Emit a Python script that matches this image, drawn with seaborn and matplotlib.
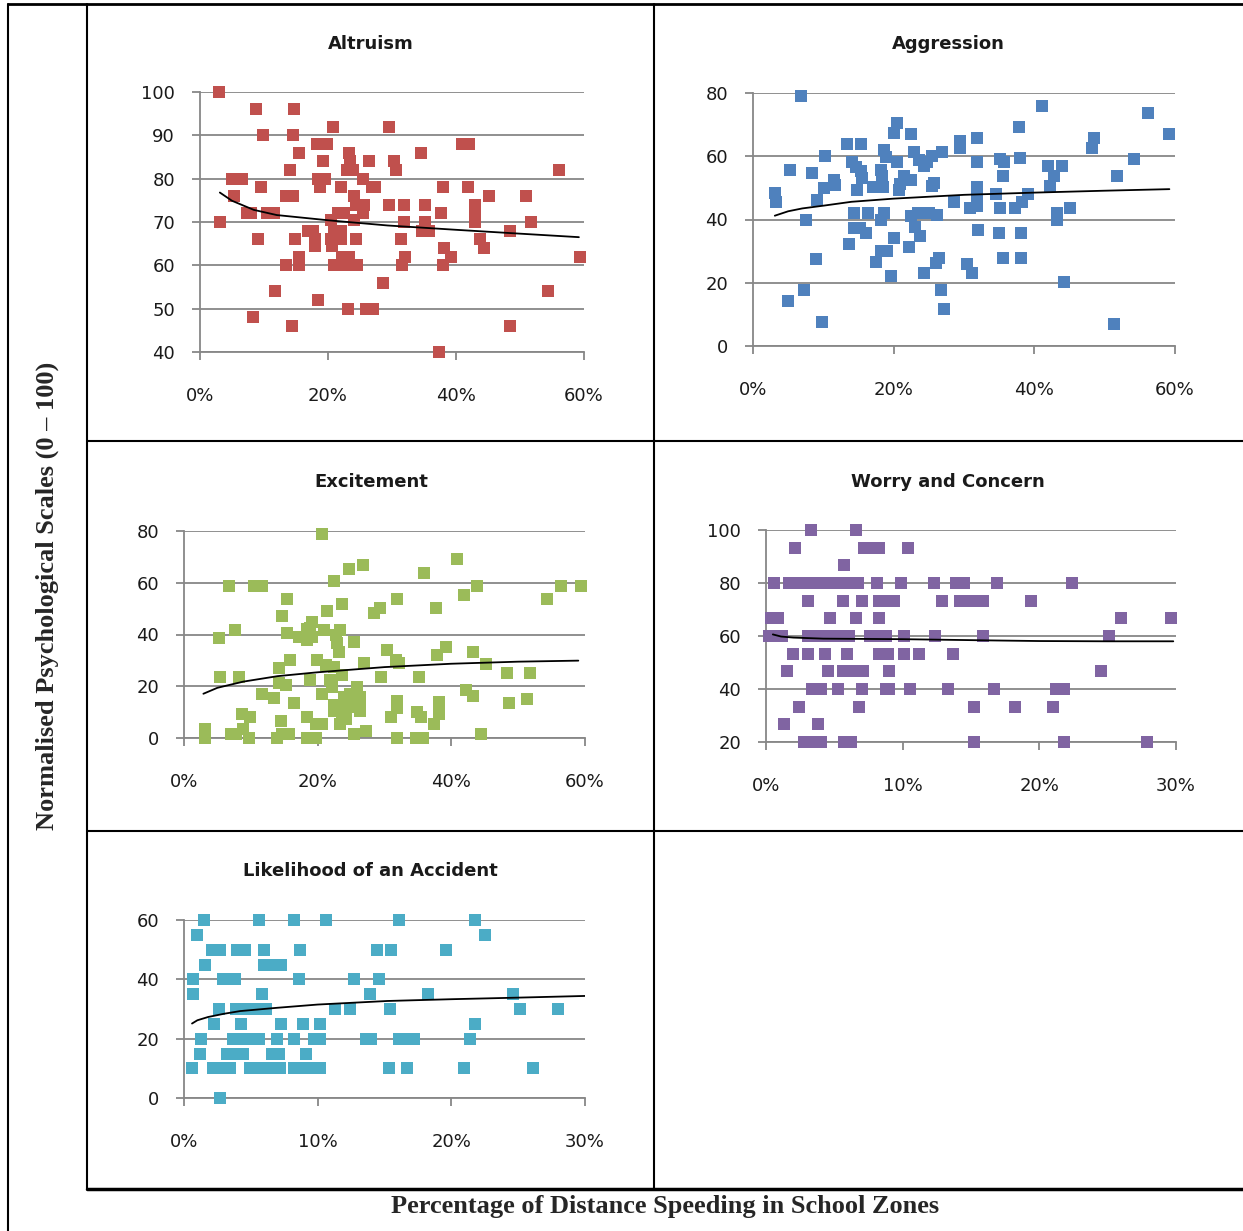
import numpy as np
import pandas as pd
import matplotlib
matplotlib.use("Agg")
import matplotlib.pyplot as plt
from matplotlib.lines import Line2D
from matplotlib.ticker import FuncFormatter
import seaborn as sns

# ---------------- data: % of distance speeding (x) vs normalised scale (y) ----------------
altruism_x = [2.9, 3.1, 8.75, 9.8, 5.0, 6.6, 5.3, 7.3, 7.9, 9.6, 9.0, 10.4, 11.5, 11.7, 8.3,
              14.7, 14.5, 15.4, 14.1, 13.5, 14.6, 14.9, 15.4, 13.5, 15.4, 14.3, 18.3, 19.9,
              19.2, 18.5, 19.6, 18.7, 16.8, 17.6, 18.0, 18.0, 18.4, 20.8, 22.0, 23.3, 23.4,
              22.9, 23.9, 20.4, 21.0, 20.4, 20.7, 21.5, 22.5, 22.0, 22.0, 20.9, 22.0, 23.5,
              24.6, 22.2, 23.3, 23.1, 24.1, 25.6, 24.4, 25.4, 24.1, 24.3, 26.4, 25.4, 26.9,
              27.4, 25.9, 27.1, 28.6, 29.5, 30.3, 30.7, 29.5, 31.9, 31.8, 31.4, 32.0, 31.6,
              34.5, 35.1, 35.2, 35.8, 34.7, 38.0, 37.6, 38.1, 39.2, 37.9, 37.3, 41.0, 42.1,
              41.8, 43.0, 43.0, 43.0, 43.8, 44.3, 45.2, 48.4, 48.4, 51.0, 51.7, 54.3, 56.1, 59.3]
altruism_y = [100, 70, 96, 90, 80, 80, 76, 72, 72, 78, 66, 72, 72, 54, 48,
              96, 90, 86, 82, 76, 76, 66, 62, 60, 60, 46, 88, 88,
              84, 80, 80, 78, 68, 68, 66, 64.5, 52, 92, 78, 86, 84,
              82, 82, 70.5, 68, 66, 64.5, 72, 72, 68, 66, 60, 60, 60,
              60, 62, 62, 50, 76, 74, 74, 72, 70.5, 66, 84, 80, 78,
              78, 50, 50, 56, 92, 84, 82, 74, 74, 70, 66, 62, 60,
              86, 74, 70, 68, 68, 78, 72, 64, 62, 60, 40, 88, 88,
              78, 74, 72, 70, 66, 64, 76, 68, 46, 76, 70, 54, 82, 62]
altruism_trend_x = [3.1, 5.0, 8.4, 12.0, 20.0, 29.3, 40.0, 50.1, 59.2]
altruism_trend_y = [76.8, 74.9, 72.8, 71.6, 70.4, 69.2, 68.2, 67.3, 66.5]

aggression_x = [3.1, 3.2, 6.8, 5.3, 5.0, 7.3, 7.6, 8.4, 8.9, 9.1, 9.8, 10.1, 10.3, 11.5, 11.6,
                13.4, 13.6, 14.1, 14.6, 15.3, 15.5, 14.8, 15.4, 14.4, 14.4, 15.2, 16.0, 16.3,
                17.1, 17.5, 18.2, 18.4, 18.5, 18.6, 18.9, 18.2, 18.6, 18.2, 19.1, 19.6, 20.0,
                20.1, 20.5, 20.5, 20.7, 20.9, 21.5, 22.4, 22.4, 22.2, 22.4, 23.4, 22.9, 23.6,
                24.3, 24.8, 25.5, 26.9, 23.1, 23.7, 24.3, 24.3, 25.0, 26.2, 25.5, 25.7, 26.0,
                26.4, 26.7, 27.2, 28.6, 29.4, 29.4, 30.4, 31.2, 30.9, 31.8, 31.9, 31.9, 31.9,
                31.8, 32.0, 34.6, 35.1, 35.0, 35.1, 35.7, 35.5, 35.5, 37.3, 37.8, 38.0, 38.3,
                39.1, 38.1, 38.1, 41.1, 41.9, 42.8, 42.2, 44.0, 43.2, 43.2, 44.2, 45.0, 48.2,
                48.5, 51.3, 51.7, 54.2, 56.2, 59.2]
aggression_y = [48.3, 45.6, 79, 55.7, 14.2, 17.8, 40, 54.6, 27.6, 46.2, 7.6, 49.9, 60.1, 52.5, 51,
                63.9, 32.1, 58.3, 56.7, 55.2, 53, 49.3, 63.9, 42.2, 37.2, 37.2, 35.6, 42.2,
                50.4, 26.6, 55.7, 53.6, 50.4, 62, 59.9, 39.8, 42.2, 30.1, 30.1, 22.1, 34,
                67.3, 70.5, 58.3, 49.3, 51.2, 53.6, 52.5, 67, 31.4, 41, 42, 61.2, 58.9,
                57, 58.3, 60.1, 61.5, 37.7, 34.8, 23.1, 42, 42, 41.4, 50.6, 51.5, 26.1,
                27.7, 17.6, 11.8, 45.6, 64.7, 62.6, 25.9, 23.1, 43.5, 58.3, 65.7, 50.4, 47.8,
                44.3, 36.7, 48, 43.5, 35.6, 59.2, 58.3, 53.8, 27.7, 43.5, 69.4, 59.4, 45.6,
                48, 35.6, 27.7, 76, 57, 53.8, 50.6, 57, 42, 39.8, 20.1, 43.5, 62.6,
                65.7, 6.8, 53.6, 59.1, 73.7, 67]
aggression_trend_x = [3.1, 5.0, 7.0, 10.1, 14.0, 20.0, 30.0, 40.0, 49.9, 59.2]
aggression_trend_y = [41.2, 42.6, 43.5, 44.4, 45.6, 46.6, 47.8, 48.5, 49.1, 49.6]

excitement_x = [3.2, 3.2, 5.2, 5.4, 8.2, 6.8, 7.7, 7.0, 7.8, 8.7, 9.9, 8.9, 9.7, 10.4, 11.7,
                11.7, 13.4, 13.9, 14.7, 14.5, 14.7, 15.4, 15.4, 14.2, 15.9, 14.2, 15.2, 15.7,
                16.4, 17.2, 18.4, 18.8, 19.2, 18.9, 19.2, 18.4, 18.4, 19.7, 20.7, 18.4, 19.7,
                19.9, 20.7, 20.9, 20.6, 21.4, 22.4, 23.6, 23.4, 22.7, 22.9, 23.2, 21.2, 22.4,
                21.9, 22.2, 23.6, 22.4, 23.4, 24.4, 25.4, 26.4, 23.9, 24.9, 25.9, 26.4, 22.4,
                23.7, 25.2, 26.4, 23.4, 24.2, 24.7, 26.8, 25.5, 25.4, 27.2, 26.9, 28.4, 29.4,
                29.5, 30.4, 30.9, 31.7, 31.8, 31.8, 31.9, 31.9, 32.2, 34.7, 35.7, 34.9, 35.4,
                35.2, 35.9, 37.7, 38.2, 38.2, 37.4, 37.9, 39.2, 40.9, 41.9, 43.9, 42.2, 43.2,
                43.2, 44.4, 45.2, 48.4, 48.6, 51.7, 51.3, 54.3, 56.4, 59.4]
excitement_y = [3.5, 0, 38.5, 23.6, 23.6, 58.9, 41.7, 1.5, 1.5, 9.3, 8, 3.5, 0, 58.9, 58.9,
                17.1, 15.5, 0, 1.5, 6.7, 47.2, 53.7, 40.4, 26.9, 30.1, 21.3, 20.3, 1.5,
                13.5, 39.1, 37.8, 22.6, 45, 42.4, 39.1, 42.1, 8, 5.4, 5.4, 0, 0,
                30.1, 79, 41.7, 17.1, 48.9, 60.5, 51.9, 41.7, 39.8, 36.6, 33.3, 28.2, 27.5,
                22.3, 19.7, 24.2, 12.6, 12.6, 12.6, 12.6, 12.6, 15.8, 17.1, 19.7, 15.8, 10.6,
                10, 11.9, 10.6, 5.4, 7.4, 65.3, 67, 37.2, 1.5, 2.8, 28.8, 48.5, 50.2,
                23.6, 33.9, 8, 30.1, 14.2, 11.6, 0, 53.7, 28.8, 0, 0, 10, 8,
                23.6, 63.8, 50.2, 13.9, 9.3, 5.4, 32, 35.3, 69, 55.4, 58.9, 18.4, 16.1,
                33.3, 1.5, 28.5, 25.1, 13.5, 25.1, 15.1, 53.7, 58.9, 58.9]
excitement_trend_x = [2.9, 5.0, 8.9, 14.0, 20.0, 30.0, 40.0, 50.0, 59.0]
excitement_trend_y = [17.1, 19.4, 21.8, 23.9, 25.4, 27.4, 28.7, 29.5, 29.9]

worry_x = [3.3, 6.6,
           2.1, 7.2, 7.8, 8.3, 10.4,
           5.7,
           0.6, 1.7, 2.2, 2.7, 3.2, 3.7, 4.2, 4.6, 5.1, 5.6, 6.1, 6.7, 8.1, 9.9, 12.3, 13.9, 14.5, 16.9, 22.4,
           3.1, 5.6, 7.0, 8.3, 8.8, 9.4, 12.9, 14.2, 14.8, 15.4, 15.9, 19.4,
           0.4, 0.9, 4.7, 6.6, 8.3, 26.0, 29.6,
           0.2, 0.7, 1.2, 3.1, 3.7, 4.2, 4.6, 5.1, 5.6, 6.1, 7.6, 8.1, 8.6, 8.8, 10.1, 12.4, 15.9, 25.1,
           2.0, 3.1, 4.3, 5.9, 8.3, 8.9, 10.1, 11.2, 13.7,
           1.5, 4.5, 5.6, 6.1, 6.6, 7.1, 9.0, 24.5,
           3.4, 4.0, 5.3, 7.0, 8.8, 9.0, 10.5, 13.3, 16.7, 21.2, 21.8,
           2.4, 6.8, 15.2, 18.2, 21.0,
           1.3, 3.8,
           2.8, 3.3, 4.0, 5.7, 6.2, 15.2, 21.8, 27.9]
worry_y = [100] * 2 + [93.3] * 5 + [86.7] * 1 + [80] * 19 + [73.3] * 12 + [66.7] * 7 + \
          [60] * 18 + [53.3] * 9 + [46.7] * 8 + [40] * 11 + [33.3] * 5 + [26.7] * 2 + [20] * 8
worry_trend_x = [0.5, 1.1, 2.0, 4.2, 10.0, 16.9, 20.0, 25.0, 29.8]
worry_trend_y = [60.6, 59.8, 59.4, 59.0, 58.8, 58.3, 58.1, 58.0, 58.0]

likelihood_x = [1.5, 5.6, 8.2, 10.6, 16.1, 21.8,
                1.0, 22.5,
                2.1, 2.7, 3.95, 4.6, 5.95, 8.65, 14.45, 15.5, 19.6,
                1.6, 6.0, 6.6, 7.25,
                0.7, 2.95, 3.8, 8.6, 12.7, 14.6,
                0.65, 5.8, 13.9, 18.25, 24.6,
                2.6, 3.9, 4.6, 5.25, 6.1, 11.3, 12.4, 15.4, 25.1, 27.95,
                2.25, 4.3, 7.25, 8.9, 10.15, 21.8,
                1.25, 3.65, 4.3, 5.0, 5.6, 6.95, 8.2, 9.7, 10.2, 13.6, 14.0, 16.1, 17.0, 17.2, 21.4,
                1.2, 3.2, 3.95, 4.45, 6.6, 7.1, 9.1,
                0.6, 2.2, 2.8, 3.45, 4.95, 5.5, 6.1, 6.7, 7.2, 8.2, 8.7, 9.2, 9.75, 10.2, 15.3, 16.7,
                20.95, 26.1,
                2.7]
likelihood_y = [60] * 6 + [55] * 2 + [50] * 9 + [45] * 4 + [40] * 6 + [35] * 5 + [30] * 10 + \
               [25] * 6 + [20] * 15 + [15] * 7 + [10] * 18 + [0] * 1
likelihood_trend_x = [0.6, 1.0, 1.8, 3.0, 4.2, 6.95, 10.0, 15.2, 20.0, 24.7, 30.0]
likelihood_trend_y = [25.1, 26.2, 27.3, 28.4, 29.3, 30.4, 31.5, 32.7, 33.3, 33.8, 34.4]

panel_titles = ["Altruism", "Aggression", "Excitement", "Worry and Concern",
                "Likelihood of an Accident"]
y_label = "Normalised Psychological Scales (0 \u2013 100)"
x_label = "Percentage of Distance Speeding in School Zones"

# ---------------- figure ----------------
W, H = 1243, 1231
sns.set_theme(style="white")
plt.rcParams["font.family"] = ["DejaVu Sans"]
fig = plt.figure(figsize=(W / 100, H / 100), dpi=100)

GRID = "#878787"

panels = [
    # title, scatter x/y, trend x/y, colour, xmax, xstep, (ymin, ymax, ystep), box (x0, x1, ytop, ybot), title pos
    (panel_titles[0], altruism_x, altruism_y, altruism_trend_x, altruism_trend_y, "#C0504D",
     60, 20, (40, 100, 10), (200, 584, 92, 352), (371, 44)),
    (panel_titles[1], aggression_x, aggression_y, aggression_trend_x, aggression_trend_y, "#4F81BD",
     60, 20, (0, 80, 20), (753, 1175, 93, 346), (948, 44)),
    (panel_titles[2], excitement_x, excitement_y, excitement_trend_x, excitement_trend_y, "#9BBB59",
     60, 20, (0, 80, 20), (184, 585, 531, 738), (371, 482)),
    (panel_titles[3], worry_x, worry_y, worry_trend_x, worry_trend_y, "#8064A2",
     30, 10, (20, 100, 20), (766, 1176, 530, 742), (948, 482)),
    (panel_titles[4], likelihood_x, likelihood_y, likelihood_trend_x, likelihood_trend_y, "#4BACC6",
     30, 10, (0, 60, 20), (184, 585, 920, 1098), (370, 871)),
]

for (title, xs, ys, txs, tys, colour, xmax, xstep, (ymin, ymax, ystep),
     (x0, x1, yt, yb), (tx, ty)) in panels:
    ax = fig.add_axes([x0 / W, 1 - yb / H, (x1 - x0) / W, (yb - yt) / H])
    df = pd.DataFrame({"x": xs, "y": ys})
    trend = pd.DataFrame({"x": txs, "y": tys})
    sns.scatterplot(data=df, x="x", y="y", ax=ax, marker="s", s=80, color=colour,
                    linewidth=0, clip_on=False, zorder=3)
    sns.lineplot(data=trend, x="x", y="y", ax=ax, color="black", lw=1.3,
                 estimator=None, sort=True, zorder=4)
    ax.set_xlim(0, xmax)
    ax.set_ylim(ymin, ymax)
    ax.set_xticks(np.arange(0, xmax + 0.1, xstep))
    ax.set_yticks(np.arange(ymin, ymax + 0.1, ystep))
    ax.xaxis.set_major_formatter(FuncFormatter(lambda v, p: f"{v:.0f}%"))
    ax.set_xlabel("")
    ax.set_ylabel("")
    ax.grid(axis="y", color=GRID, lw=1.3)
    ax.set_axisbelow(True)
    for side in ("top", "right"):
        ax.spines[side].set_visible(False)
    for side in ("left", "bottom"):
        ax.spines[side].set_color(GRID)
        ax.spines[side].set_linewidth(1.3)
    ax.tick_params(axis="both", length=6, width=1.3, color=GRID, labelsize=13,
                   labelcolor="#1a1a1a", direction="out")
    ax.tick_params(axis="y", pad=12, left=True)
    ax.tick_params(axis="x", pad=19, bottom=True)
    ax.set_facecolor("none")
    fig.text(tx / W, 1 - ty / H, title, ha="center", va="center",
             fontsize=13, fontweight="bold", color="#1a1a1a")

# ---------------- table frame ----------------
def hline(y, xa, xb, lw=1.5):
    fig.add_artist(Line2D([xa / W, xb / W], [1 - y / H, 1 - y / H], color="black",
                          lw=lw, transform=fig.transFigure))

def vline(x, ya, yb, lw=1.5):
    fig.add_artist(Line2D([x / W, x / W], [1 - ya / H, 1 - yb / H], color="black",
                          lw=lw, transform=fig.transFigure))

hline(4, 8, W, lw=2)
vline(8, 4, H, lw=1.5)
vline(87, 4, 1189, lw=1.5)
vline(654, 4, 1189, lw=1.5)
hline(441, 87, W, lw=1.5)
hline(831, 87, W, lw=1.5)
hline(1189, 87, W, lw=2.5)

serif = ["Liberation Serif", "DejaVu Serif"]
fig.text(47 / W, 1 - 596 / H, y_label, rotation=90, ha="center", va="center",
         fontsize=19, fontweight="bold", family=serif)
fig.text(665 / W, 1 - 1206 / H, x_label, ha="center", va="center",
         fontsize=19, fontweight="bold", family=serif)

fig.savefig("out.png", dpi=100, facecolor="white")
